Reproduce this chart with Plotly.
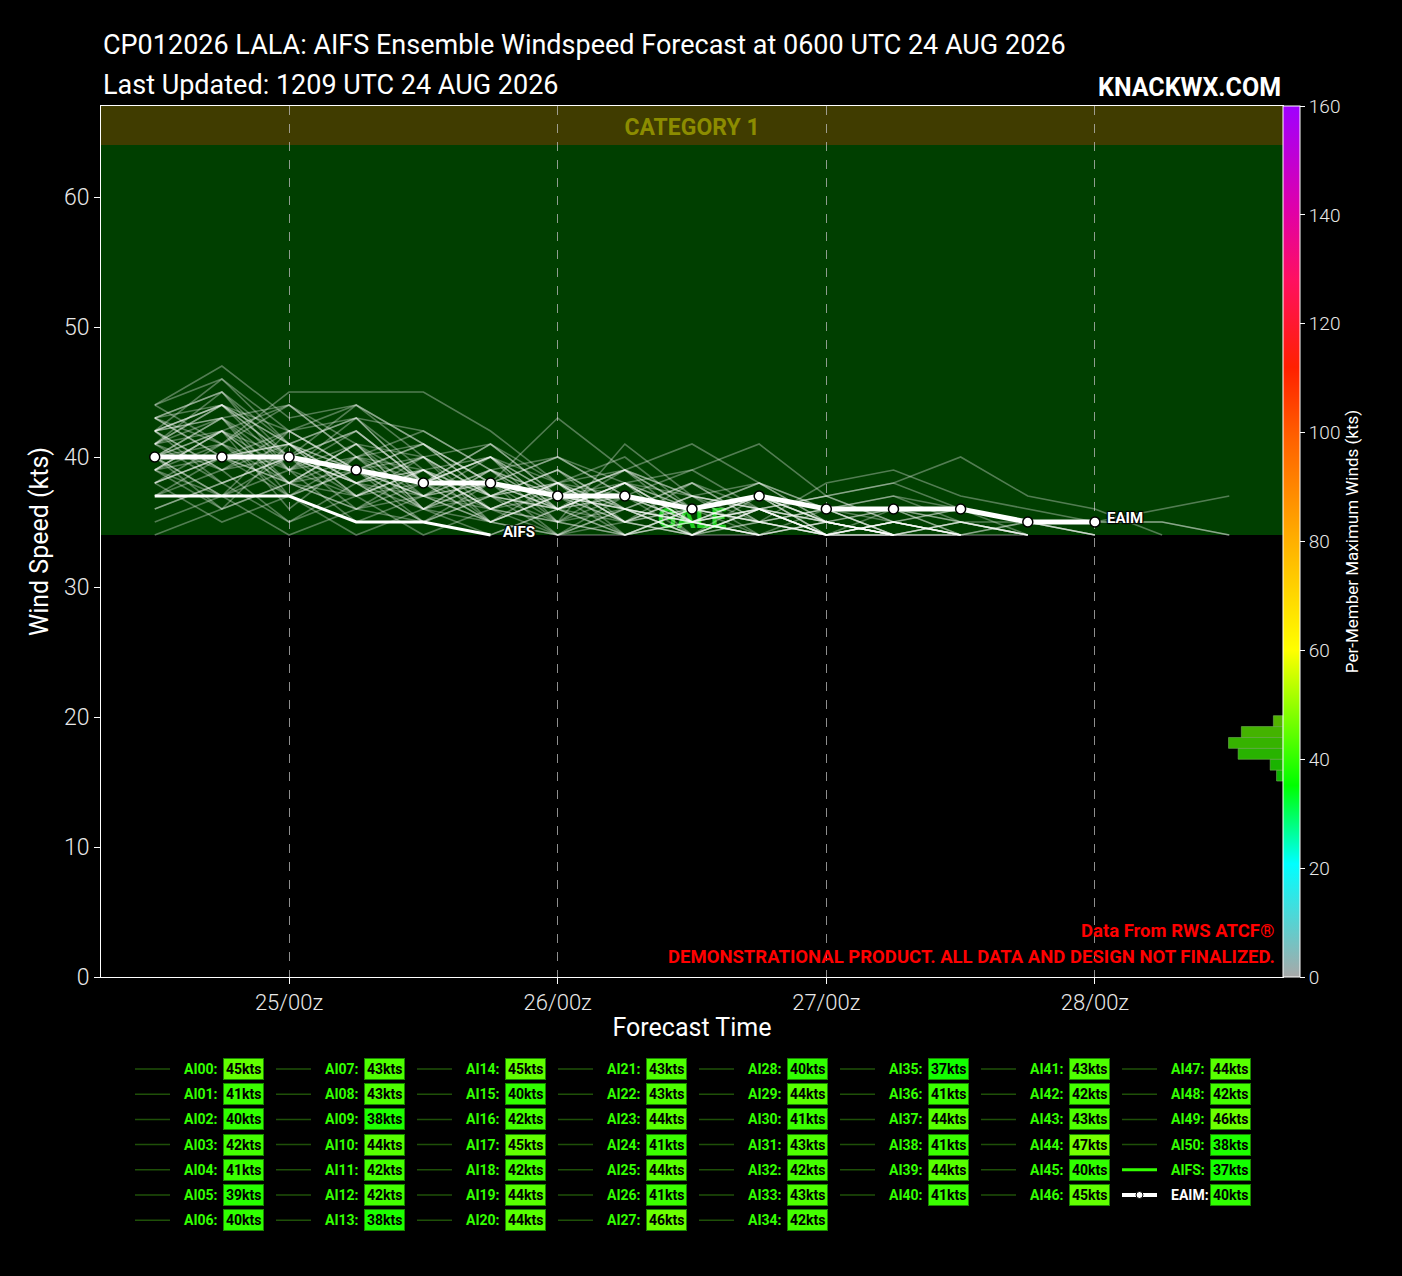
import numpy as np
import pandas as pd
import plotly.graph_objects as go
from plotly.colors import sample_colorscale

# forecast times, every 6 h from 24/12z
times = pd.date_range("2026-08-24 12:00", periods=17, freq="6h")

# per-member max wind (kts); members that stop early are padded with None
members = {
    "AI00": [41, 45, 39, 42, 38, 40, 36, 38, 35, 36, 34, 35, 34, 34],
    "AI01": [38, 41, 37, 39, 35, 38, 36, 34, 36, 35, 34, 34],
    "AI02": [36, 38, 40, 36, 38, 35, 37, 34, 36, 35, 34, 35, 34],
    "AI03": [42, 39, 41, 38, 40, 36, 38, 35, 37, 34, 35, 34],
    "AI04": [39, 36, 41, 37, 39, 36, 34, 37, 35, 36, 34, 34, 35, 34],
    "AI05": [37, 39, 35, 38, 36, 34, 36, 35, 34, 36, 34],
    "AI06": [40, 37, 39, 35, 37, 38, 35, 36, 34, 35, 36, 34, 34],
    "AI07": [40, 43, 38, 41, 37, 39, 36, 38, 35, 37, 34, 36, 35, 34],
    "AI08": [43, 40, 42, 39, 37, 40, 35, 37, 34, 36, 35, 34],
    "AI09": [36, 38, 35, 37, 34, 36, 35, 34, 35, 34],
    "AI10": [41, 44, 40, 42, 38, 41, 37, 39, 36, 38, 35, 36, 34, 35, 34],
    "AI11": [39, 42, 36, 40, 38, 35, 38, 36, 34, 37, 35, 34],
    "AI12": [42, 38, 40, 37, 39, 35, 37, 36, 34, 35, 34],
    "AI13": [38, 35, 37, 34, 36, 35, 34, 34, 35, 34],
    "AI14": [44, 41, 45, 45, 45, 42, 38, 40, 36, 37, 35, 34, 35, 34],
    "AI15": [38, 40, 37, 39, 36, 38, 34, 36, 35, 34, 35, 34],
    "AI16": [40, 37, 42, 39, 41, 37, 39, 35, 38, 36, 34, 35, 34],
    "AI17": [43, 45, 40, 42, 38, 40, 36, 37, 35, 36, 34],
    "AI18": [41, 42, 38, 41, 36, 39, 37, 35, 37, 36, 35, 34, 34],
    "AI19": [42, 44, 39, 43, 38, 41, 37, 36, 35, 34, 35, 34],
    "AI20": [39, 42, 44, 40, 41, 37, 39, 36, 35, 37, 35, 34],
    "AI21": [41, 38, 40, 39, 36, 38, 43, 39, 37, 36, 34, 35, 34],
    "AI22": [42, 43, 37, 40, 39, 36, 38, 35, 34, 36, 34],
    "AI23": [43, 44, 41, 38, 40, 37, 39, 36, 38, 35, 36, 34, 35, 34],
    "AI24": [39, 37, 40, 38, 35, 37, 36, 38, 39, 41, 37, 38, 36, 35, 34],
    "AI25": [42, 44, 42, 39, 41, 38, 36, 38, 35, 37, 34, 35, 34],
    "AI26": [37, 40, 38, 41, 36, 39, 35, 34, 36, 35, 34, 34],
    "AI27": [42, 46, 41, 43, 39, 40, 37, 36, 38, 35, 34, 35, 34],
    "AI28": [40, 36, 38, 37, 40, 35, 37, 36, 34, 36, 37, 35, 36, 34],
    "AI29": [40, 43, 44, 41, 38, 40, 38, 39, 36, 37, 35, 34, 35, 34],
    "AI30": [38, 40, 41, 37, 39, 36, 35, 41, 37, 36, 37, 35, 34],
    "AI31": [41, 39, 42, 43, 38, 40, 37, 39, 35, 36, 34, 35, 34],
    "AI32": [40, 42, 39, 40, 37, 38, 36, 39, 37, 38, 36, 37, 36, 35, 34],
    "AI33": [43, 40, 41, 39, 37, 39, 36, 37, 35, 36, 34, 34],
    "AI34": [39, 42, 38, 36, 39, 37, 35, 38, 34, 36, 35, 34],
    "AI35": [35, 37, 34, 36, 35, 34, 36, 34, 35, 34],
    "AI36": [39, 40, 41, 38, 37, 35, 37, 39, 41, 38, 36, 37, 35, 34],
    "AI37": [41, 44, 40, 44, 41, 38, 40, 37, 36, 38, 35, 36, 34, 35, 34],
    "AI38": [40, 41, 39, 37, 38, 36, 38, 35, 37, 36, 37, 38, 40, 37, 36, 34],
    "AI39": [42, 44, 41, 39, 40, 37, 38, 35, 36, 34, 35, 34],
    "AI40": [39, 41, 38, 40, 36, 37, 36, 38, 37, 35, 38, 39, 37, 36, 35, 35, 34],
    "AI41": [41, 43, 39, 41, 40, 37, 38, 36, 35, 37, 34, 35, 34],
    "AI42": [40, 42, 40, 38, 39, 37, 36, 38, 36, 37, 36, 35, 36, 35, 35, 36, 37],
    "AI43": [42, 43, 40, 38, 39, 36, 38, 34, 36, 35, 34],
    "AI44": [44, 47, 43, 44, 40, 41, 38, 37, 39, 36, 35, 34, 34],
    "AI45": [38, 40, 38, 39, 37, 36, 37, 35, 36, 37, 36, 36, 35, 35, 35, 35, 34],
    "AI46": [43, 45, 41, 43, 42, 39, 40, 38, 36, 37, 35, 34],
    "AI47": [43, 41, 44, 40, 42, 39, 37, 38, 35, 34, 36, 34],
    "AI48": [42, 39, 40, 38, 35, 37, 34, 36, 35, 34],
    "AI49": [44, 46, 42, 44, 41, 38, 40, 37, 36, 35, 36, 34],
    "AI50": [34, 36, 38, 36, 37, 35, 34, 35, 34, 34],
}
aifs = [37, 37, 37, 35, 35, 34]
eaim = [40, 40, 40, 39, 38, 38, 37, 37, 36, 37, 36, 36, 36, 35, 35]

hist_edges = [36, 38, 40, 42, 44, 46, 48]

FONT = "Roboto, Liberation Sans, sans-serif"

wind_scale = [
    [0.0, "#a8a8a8"], [0.13, "#00ffff"], [0.22, "#00ff00"],
    [0.30, "#80ff00"], [0.375, "#ffff00"], [0.5, "#ffb000"],
    [0.62, "#ff6000"], [0.70, "#ff2000"], [0.80, "#ff1060"],
    [0.88, "#e000a8"], [1.0, "#a000ff"],
]


def wind_color(v):
    return sample_colorscale(wind_scale, [v / 160])[0]


def pad(vals):
    return vals + [None] * (len(times) - len(vals))


fig = go.Figure()

for name, vals in members.items():
    fig.add_trace(go.Scatter(x=times, y=pad(vals), mode="lines",
                             line=dict(color="rgba(255,255,255,0.32)", width=1.6),
                             name=name, showlegend=False, hoverinfo="skip"))

fig.add_trace(go.Scatter(x=times, y=pad(aifs), mode="lines",
                         line=dict(color="white", width=3),
                         name="AIFS", showlegend=False))
fig.add_trace(go.Scatter(x=times, y=pad(eaim), mode="lines+markers",
                         line=dict(color="white", width=5),
                         marker=dict(size=10, color="white",
                                     line=dict(color="black", width=1.5)),
                         name="EAIM", showlegend=False))

# histogram of peak winds, drawn against the colorbar scale
peaks = {n: max(v) for n, v in members.items()}
peaks["AIFS"] = max(aifs)
peaks["EAIM"] = max(eaim)
counts, _ = np.histogram(list(peaks.values()), bins=hist_edges)
centers = [(a + b) / 2 for a, b in zip(hist_edges[:-1], hist_edges[1:])]

fig.add_trace(go.Bar(
    y=centers, x=counts, orientation="h", width=2, xaxis="x2", yaxis="y2",
    opacity=0.7, showlegend=False, hoverinfo="skip",
    marker=dict(color=centers, colorscale=wind_scale, cmin=0, cmax=160,
                line=dict(color="rgba(160,255,120,0.6)", width=1),
                colorbar=dict(
                    x=1.0, xanchor="left", xpad=0, y=0.5, yanchor="middle",
                    len=1, ypad=0, thickness=17, outlinecolor="white", outlinewidth=1,
                    tickvals=list(range(0, 161, 20)), ticks="outside",
                    ticklen=5, tickcolor="white",
                    tickfont=dict(family=FONT, size=19, color="#e8e8e8", weight=300),
                    title=dict(text="Per-Member Maximum Winds (kts)", side="right",
                               font=dict(family=FONT, size=17, color="white")),
                )),
))

# intensity bands
fig.add_shape(type="rect", xref="paper", x0=0, x1=1, y0=34, y1=64,
              fillcolor="#003f00", line_width=0, layer="below",
              label=dict(text="GALE", textposition="bottom center", padding=2,
                         font=dict(family=FONT, size=28, color="#22cc22", weight=700)))
fig.add_shape(type="rect", xref="paper", x0=0, x1=1, y0=64, y1=67,
              fillcolor="#403c00", line_width=0, layer="below",
              label=dict(text="CATEGORY 1", textposition="middle center",
                         font=dict(family=FONT, size=23, color="#8c8c00", weight=700)))

outline = "1px 1px 1px black, -1px -1px 1px black, 1px -1px 1px black, -1px 1px 1px black"
fig.add_annotation(x=times[len(aifs) - 1], y=aifs[-1], text="AIFS", showarrow=False,
                   xanchor="left", yanchor="middle", xshift=10, yshift=3,
                   font=dict(family=FONT, size=15, color="white", weight=700, shadow=outline))
fig.add_annotation(x=times[len(eaim) - 1], y=eaim[-1], text="EAIM", showarrow=False,
                   xanchor="left", yanchor="middle", xshift=10, yshift=4,
                   font=dict(family=FONT, size=15, color="white", weight=700, shadow=outline))

# titles and notes (positions given in page pixels)
W, H, PL, PR, PT, PB = 1402, 1276, 101, 1283, 106, 977


def px_x(p):
    return (p - PL) / (PR - PL)


def px_y(p):
    return (PB - p) / (PB - PT)


fig.add_annotation(xref="paper", yref="paper", x=0, y=px_y(45), xanchor="left",
                   yanchor="middle", showarrow=False,
                   text="CP012026 LALA: AIFS Ensemble Windspeed Forecast at 0600 UTC 24 AUG 2026",
                   font=dict(family=FONT, size=27, color="white"))
fig.add_annotation(xref="paper", yref="paper", x=0, y=px_y(85), xanchor="left",
                   yanchor="middle", showarrow=False,
                   text="Last Updated: 1209 UTC 24 AUG 2026",
                   font=dict(family=FONT, size=27, color="white"))
fig.add_annotation(xref="paper", yref="paper", x=1, y=px_y(87), xanchor="right",
                   yanchor="middle", showarrow=False, text="KNACKWX.COM",
                   font=dict(family=FONT, size=25, color="white", weight=700))
fig.add_annotation(xref="paper", yref="paper", x=px_x(1277), y=px_y(931), xanchor="right",
                   yanchor="middle", showarrow=False, text="Data From RWS ATCF®",
                   font=dict(family=FONT, size=18.5, color="#ff0000", weight=700))
fig.add_annotation(xref="paper", yref="paper", x=px_x(1277), y=px_y(957), xanchor="right",
                   yanchor="middle", showarrow=False,
                   text="DEMONSTRATIONAL PRODUCT. ALL DATA AND DESIGN NOT FINALIZED.",
                   font=dict(family=FONT, size=18.5, color="#ff0000", weight=700))

# legend drawn as text boxes below the chart
entries = list(members.keys()) + ["AIFS", "EAIM"]
slots = [(c, r) for c in range(5) for r in range(7)]
slots += [(c, r) for c in range(5, 8) for r in range(6)]

for name, (c, r) in zip(entries, slots):
    lx = 182 + 141 * c
    ly = 1069 + 25.2 * r
    yp = px_y(ly)
    col = wind_color(peaks[name])
    if name == "EAIM":
        fig.add_shape(type="line", xref="paper", yref="paper",
                      x0=px_x(lx - 47), x1=px_x(lx - 12), y0=yp, y1=yp,
                      line=dict(color="white", width=4))
        fig.add_shape(type="circle", xref="paper", yref="paper",
                      x0=px_x(lx - 33), x1=px_x(lx - 26), y0=px_y(ly + 3.5), y1=px_y(ly - 3.5),
                      fillcolor="white", line=dict(color="black", width=1))
        txt_col = "white"
    elif name == "AIFS":
        fig.add_shape(type="line", xref="paper", yref="paper",
                      x0=px_x(lx - 47), x1=px_x(lx - 12), y0=yp, y1=yp,
                      line=dict(color="#33ff00", width=3))
        txt_col = "#33ff00"
    else:
        fig.add_shape(type="line", xref="paper", yref="paper",
                      x0=px_x(lx - 47), x1=px_x(lx - 12), y0=yp, y1=yp,
                      line=dict(color="#1f5008", width=1.5))
        txt_col = "#33ff00"
    fig.add_annotation(xref="paper", yref="paper", x=px_x(lx), y=yp, xanchor="left",
                       yanchor="middle", showarrow=False, text=name + ":",
                       font=dict(family=FONT, size=14, color=txt_col, weight=700))
    fig.add_annotation(xref="paper", yref="paper", x=px_x(lx + 41), y=yp, xanchor="left",
                       yanchor="middle", showarrow=False, text=f"{peaks[name]}kts",
                       bgcolor=col, bordercolor="#1a8a00", borderwidth=1, borderpad=2,
                       font=dict(family=FONT, size=14, color="black", weight=700))

fig.update_layout(
    width=W, height=H,
    margin=dict(l=PL, r=W - PR, t=PT, b=H - PB),
    paper_bgcolor="black", plot_bgcolor="black",
    font=dict(family=FONT, color="white"),
    showlegend=False,
    xaxis=dict(
        range=["2026-08-24 07:12", "2026-08-28 16:48"],
        tick0="2026-08-25", dtick=86400000, tickformat="%d/%Hz",
        showgrid=True, gridcolor="rgba(190,190,190,0.75)", griddash="dash", gridwidth=1,
        ticks="outside", ticklen=6, tickcolor="white",
        showline=True, linecolor="white", linewidth=1, mirror=True,
        tickfont=dict(family=FONT, size=22, color="#e8e8e8", weight=300),
        title=dict(text="Forecast Time", font=dict(family=FONT, size=25, color="white"),
                   standoff=4),
        zeroline=False,
    ),
    yaxis=dict(
        range=[0, 67], tickvals=list(range(0, 61, 10)),
        showgrid=False, zeroline=False,
        ticks="outside", ticklen=6, tickcolor="white",
        showline=True, linecolor="white", linewidth=1, mirror=True,
        tickfont=dict(family=FONT, size=23, color="#e8e8e8", weight=300),
        title=dict(text="Wind Speed (kts)", font=dict(family=FONT, size=25, color="white"),
                   standoff=8),
    ),
    xaxis2=dict(overlaying="x", anchor="y2", range=[369, 0], visible=False, fixedrange=True),
    yaxis2=dict(overlaying="y", anchor="x2", range=[0, 160], visible=False, fixedrange=True),
)

fig.write_html("out.html", config={"displayModeBar": False},
               post_script="document.body.style.margin='0';"
                           "document.body.style.background='black';")
